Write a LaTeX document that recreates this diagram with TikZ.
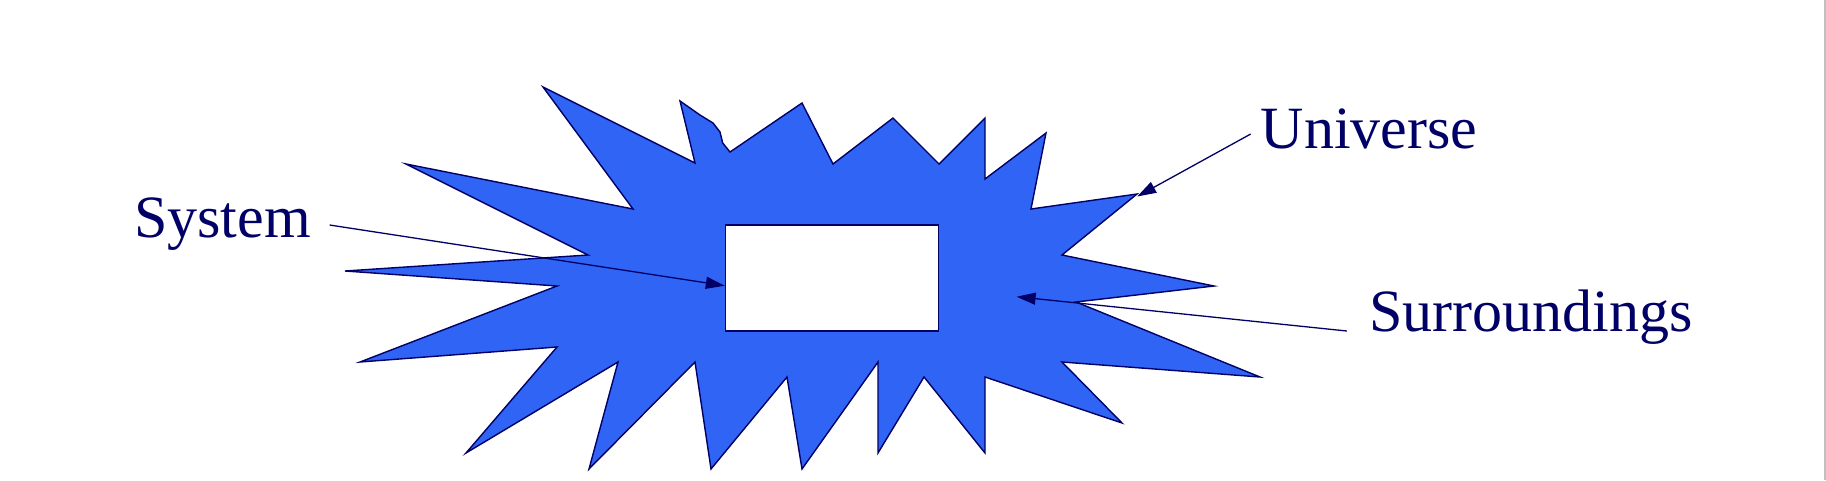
\documentclass[tikz,border=0pt]{standalone}
\usepackage{fontspec}
\setmainfont{Liberation Serif}
\usetikzlibrary{arrows.meta}
\definecolor{navy}{RGB}{0,0,102}
\definecolor{starblue}{RGB}{47,100,245}
\definecolor{edgegray}{RGB}{192,192,192}
\tikzset{
  lbl/.style={anchor=base west, inner sep=0pt, text=navy, font=\fontsize{60}{66}\selectfont},
  arr/.style={draw=navy, line width=1.3pt, -{Triangle[length=19pt,width=12pt]}},
  starshape/.style={fill=starblue, draw=navy, line width=1.4pt, line join=miter},
  sysbox/.style={draw=navy, fill=white, line width=1.4pt, minimum width=213pt, minimum height=106pt, inner sep=0pt}
}
\begin{document}
\begin{tikzpicture}[x=1pt,y=-1pt]
\useasboundingbox (0,0) rectangle (1826,480);
\fill[white] (0,0) rectangle (1826,480);
\fill[edgegray] (1824,0) rectangle (1826,480);
% starburst (universe)
\path[starshape] (543,87) -- (695,163) -- (680,101)
  -- (700,115) -- (713,123) -- (720,132) -- (722.7,143)
  -- (730,152) -- (802,103) -- (833,164) -- (893,118) -- (939,164)
  -- (985,118) -- (985,179) -- (1046,133) -- (1031,209) -- (1137,194)
  -- (1062,255) -- (1214,286) -- (1076,302) -- (1260,377) -- (1062,362)
  -- (1122,423) -- (985,377) -- (985,453) -- (924,377) -- (878,453)
  -- (878,362) -- (802,469) -- (787,377) -- (711,469) -- (695,362)
  -- (589,469) -- (618,362) -- (466,453) -- (557,347) -- (360,362)
  -- (557,286) -- (345,271) -- (588,255) -- (406,164) -- (633,209) -- cycle;
% system box
\node[sysbox] (sys) at (832,278) {};
% labels
\node[lbl] (system) at (134,237.3) {System};
\node[lbl] (universe) at (1260.5,148.3) {Universe};
\node[lbl] (surr) at (1369,331) {Surroundings};
% connector ends
\coordinate (systail) at (329.6,225);
\coordinate (systip) at (sys.west |- 0,285.7);
\coordinate (unitail) at (1250.7,134);
\coordinate (unitip) at (1137.2,196.5);
\coordinate (surrtail) at (1346.8,331);
\coordinate (surrtip) at (1016.6,296.7);
\draw[arr] (systail) -- (systip);
\draw[arr] (unitail) -- (unitip);
\draw[arr] (surrtail) -- (surrtip);
\end{tikzpicture}
\end{document}
